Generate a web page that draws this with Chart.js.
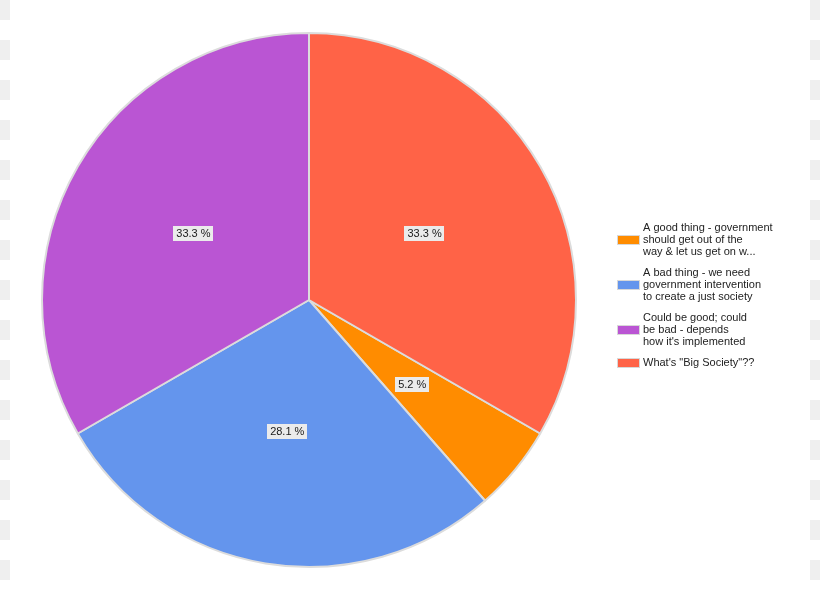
<!DOCTYPE html>
<html>
<head>
<meta charset="utf-8">
<script src="https://cdn.jsdelivr.net/npm/chart.js@4"></script>
<style>
html,body{margin:0;padding:0;background:#fff;}
#wrap{position:relative;width:820px;height:600px;}
.strip{position:absolute;top:0;width:10px;height:600px;
background:repeating-linear-gradient(to bottom,#efefef 0px,#efefef 20px,#ffffff 20px,#ffffff 40px);}
canvas{position:absolute;left:0;top:0;}
</style>
</head>
<body>
<div id="wrap">
<div class="strip" style="left:0"></div>
<div class="strip" style="left:810px"></div>
<canvas id="c" width="820" height="600"></canvas>
</div>
<script>
const categories = [
  ["A good thing - government", "should get out of the", "way & let us get on w..."],
  ["A bad thing - we need", "government intervention", "to create a just society"],
  ["Could be good; could", "be bad - depends", "how it's implemented"],
  ["What's \"Big Society\"??"]
];
const values = [5, 27, 32, 32];
const colors = ["#FF8C00", "#6495ED", "#BA55D3", "#FF6347"];

const FONT = "11px 'Liberation Sans', Arial, sans-serif";

const sliceLabels = {
  id: 'sliceLabels',
  afterDatasetsDraw(chart) {
    const ctx = chart.ctx;
    const meta = chart.getDatasetMeta(0);
    const total = values.reduce((a, b) => a + b, 0);
    ctx.save();
    ctx.font = FONT;
    ctx.textBaseline = 'middle';
    ctx.textAlign = 'center';
    meta.data.forEach((arc, i) => {
      const mid = (arc.startAngle + arc.endAngle) / 2;
      const r = arc.outerRadius * 0.5;
      const x = arc.x + Math.cos(mid) * r;
      const y = arc.y + Math.sin(mid) * r;
      const txt = (values[i] / total * 100).toFixed(1) + ' %';
      const w = ctx.measureText(txt).width + 6;
      const h = 15;
      ctx.fillStyle = '#ebebeb';
      ctx.fillRect(Math.round(x - w / 2), Math.round(y - h / 2), Math.round(w), h);
      ctx.fillStyle = '#1a1a1a';
      ctx.fillText(txt, x, y + 0.5);
    });
    ctx.restore();
  }
};

const sideLegend = {
  id: 'sideLegend',
  afterDraw(chart) {
    const ctx = chart.ctx;
    ctx.save();
    ctx.font = FONT;
    ctx.textBaseline = 'middle';
    ctx.textAlign = 'left';
    const lh = 12;
    let y = 227.5;
    categories.forEach((lines, i) => {
      const midY = y + (lines.length - 1) * lh / 2;
      ctx.fillStyle = '#d8d8d8';
      ctx.fillRect(617, Math.round(midY - 5), 23, 10);
      ctx.fillStyle = colors[i];
      ctx.fillRect(618, Math.round(midY - 4), 21, 8);
      ctx.fillStyle = '#222222';
      lines.forEach((t, j) => ctx.fillText(t, 643, y + j * lh));
      y += lines.length * lh + 9;
    });
    ctx.restore();
  }
};

new Chart(document.getElementById('c'), {
  type: 'pie',
  data: {
    labels: categories.map(l => l.join(' ')),
    datasets: [{
      data: values,
      backgroundColor: colors,
      borderColor: '#dcdcdc',
      borderWidth: 2,
      hoverOffset: 0
    }]
  },
  options: {
    responsive: false,
    animation: false,
    rotation: 120,
    layout: { padding: { left: 41, right: 243, top: 32, bottom: 32 } },
    plugins: {
      legend: { display: false },
      tooltip: { enabled: false }
    }
  },
  plugins: [sliceLabels, sideLegend]
});
</script>
</body>
</html>
